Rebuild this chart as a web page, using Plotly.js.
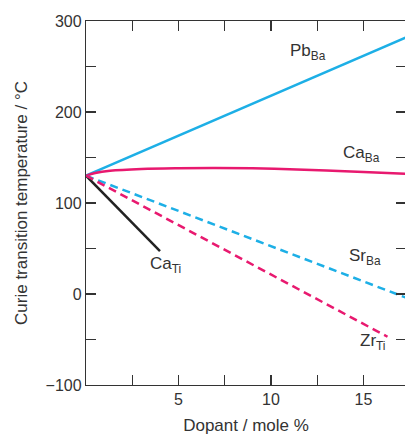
<!DOCTYPE html>
<html><head><meta charset="utf-8">
<script src="https://cdn.plot.ly/plotly-3.0.1.min.js"></script>
<style>html,body{margin:0;padding:0;overflow:hidden;background:#fff;width:405px;height:435px}</style>
</head><body>
<div id="chart" style="width:407px;height:435px"></div>
<script>
const pbBaX = [0, 7.4, 17.3];
const pbBaY = [130, 195, 282];
const caBaX = [0, 0.5, 1.3, 3, 5, 7, 9, 11, 13, 15, 17.3];
const caBaY = [130, 133, 135.5, 137.5, 138.3, 138.5, 138.2, 137.2, 135.8, 134, 132];
const caTiX = [0, 4];
const caTiY = [130, 47];
const srBaX = [0, 17.3];
const srBaY = [130, -4];
const zrTiX = [0, 16.3];
const zrTiY = [130, -47];
const xTickVals = [0, 2.5, 5, 7.5, 10, 12.5, 15, 17.5];
const xTickText = ['', '', '5', '', '10', '', '15', ''];
const yTickVals = [-100, -50, 0, 50, 100, 150, 200, 250, 300];
const yTickText = ['\u2212100', '', '0', '', '100', '', '200', '', '300'];
const labels = [
  {text: 'Pb<sub>Ba</sub>', x: 10.9, y: 266},
  {text: 'Ca<sub>Ba</sub>', x: 13.8, y: 154},
  {text: 'Sr<sub>Ba</sub>', x: 14.1, y: 41},
  {text: 'Ca<sub>Ti</sub>', x: 3.35, y: 32},
  {text: 'Zr<sub>Ti</sub>', x: 14.7, y: -53}
];

const cyan = '#1dafe6';
const pink = '#e8196f';
const traces = [
  {x: pbBaX, y: pbBaY, mode: 'lines', line: {color: cyan, width: 2.5}},
  {x: caBaX, y: caBaY, mode: 'lines', line: {color: pink, width: 2.5, shape: 'spline'}},
  {x: caTiX, y: caTiY, mode: 'lines', line: {color: '#222', width: 2.5}},
  {x: srBaX, y: srBaY, mode: 'lines', line: {color: cyan, width: 2.5, dash: '8px,5px'}},
  {x: zrTiX, y: zrTiY, mode: 'lines', line: {color: pink, width: 2.5, dash: '8px,5px'}}
];

const fam = 'Liberation Sans, Arial, sans-serif';
const tickFont = {family: fam, size: 16, color: '#333'};
const titleFont = {family: fam, size: 17, color: '#333'};
const layout = {
  width: 407, height: 435,
  margin: {l: 86, r: 1, t: 21, b: 50},
  showlegend: false,
  paper_bgcolor: '#fff', plot_bgcolor: '#fff',
  font: tickFont,
  xaxis: {
    range: [0, 17.3], tickvals: xTickVals, ticktext: xTickText,
    ticks: 'inside', ticklen: 10, tickwidth: 1.2, tickcolor: '#333',
    showline: true, linecolor: '#333', linewidth: 1.2, mirror: 'ticks',
    showgrid: false, zeroline: false, tickfont: tickFont,
    title: {text: 'Dopant / mole %', font: titleFont, standoff: 11}
  },
  yaxis: {
    range: [-100, 300], tickvals: yTickVals, ticktext: yTickText,
    ticks: 'inside', ticklen: 10, tickwidth: 1.2, tickcolor: '#333',
    showline: true, linecolor: '#333', linewidth: 1.2, mirror: 'ticks',
    showgrid: false, zeroline: false, tickfont: tickFont,
    title: {text: 'Curie transition temperature / \u00b0C', font: titleFont, standoff: 13}
  },
  annotations: labels.map(l => ({
    text: l.text, x: l.x, y: l.y, xref: 'x', yref: 'y',
    showarrow: false, xanchor: 'left', yanchor: 'middle',
    font: {family: fam, size: 17, color: '#333'}
  }))
};
Plotly.newPlot('chart', traces, layout, {displayModeBar: false, staticPlot: true});
</script>
</body></html>
